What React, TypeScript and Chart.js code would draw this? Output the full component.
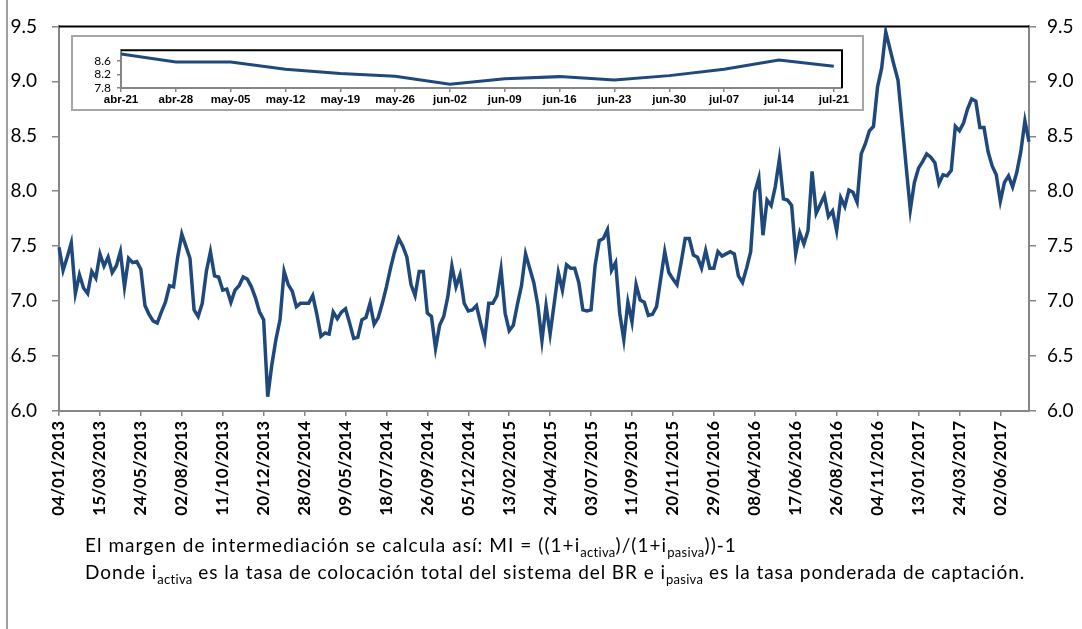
import React, { useEffect, useRef } from "react";
import { Chart, registerables } from "chart.js";
Chart.register(...registerables);

// Weekly intermediation margin (%), first week 04/01/2013
const firstWeekUTC = Date.UTC(2013, 0, 4);
const marginValues = [
  7.49, 7.28, 7.40, 7.53, 7.07, 7.24, 7.12, 7.07, 7.27, 7.21,
  7.43, 7.32, 7.40, 7.26, 7.32, 7.45, 7.13, 7.39, 7.35, 7.36,
  7.29, 6.96, 6.88, 6.82, 6.80, 6.90, 6.99, 7.14, 7.13, 7.40,
  7.61, 7.50, 7.39, 6.92, 6.86, 6.98, 7.27, 7.45, 7.23, 7.22,
  7.10, 7.11, 6.99, 7.10, 7.14, 7.22, 7.20, 7.13, 7.03, 6.90,
  6.83, 6.13, 6.42, 6.65, 6.83, 7.27, 7.15, 7.09, 6.95, 6.98,
  6.98, 6.98, 7.05, 6.88, 6.68, 6.71, 6.70, 6.90, 6.84, 6.90,
  6.93, 6.80, 6.66, 6.67, 6.83, 6.85, 6.98, 6.79, 6.85, 6.98,
  7.13, 7.30, 7.45, 7.57, 7.50, 7.40, 7.15, 7.05, 7.27, 7.27,
  6.89, 6.86, 6.57, 6.78, 6.86, 7.04, 7.32, 7.13, 7.24, 6.98,
  6.91, 6.92, 6.96, 6.80, 6.65, 6.98, 6.98, 7.05, 7.29, 6.89,
  6.73, 6.78, 6.97, 7.14, 7.43, 7.30, 7.17, 6.96, 6.64, 6.96,
  6.70, 6.98, 7.26, 7.10, 7.33, 7.30, 7.30, 7.17, 6.92, 6.91,
  6.92, 7.33, 7.55, 7.57, 7.65, 7.28, 7.35, 6.89, 6.65, 6.99,
  6.81, 7.15, 7.01, 6.99, 6.87, 6.88, 6.95, 7.20, 7.45, 7.26,
  7.20, 7.15, 7.35, 7.57, 7.57, 7.42, 7.40, 7.30, 7.46, 7.30,
  7.30, 7.45, 7.41, 7.43, 7.45, 7.43, 7.23, 7.17, 7.30, 7.45,
  7.99, 8.12, 7.60, 7.92, 7.87, 8.04, 8.29, 7.93, 7.92, 7.87,
  7.43, 7.62, 7.52, 7.64, 8.18, 7.80, 7.88, 7.96, 7.77, 7.82,
  7.64, 7.94, 7.86, 8.01, 7.99, 7.90, 8.34, 8.43, 8.55, 8.59,
  8.95, 9.12, 9.45, 9.30, 9.15, 9.01, 8.62, 8.22, 7.83, 8.08,
  8.21, 8.27, 8.34, 8.31, 8.26, 8.07, 8.15, 8.14, 8.19, 8.59,
  8.55, 8.62, 8.75, 8.84, 8.82, 8.58, 8.58, 8.36, 8.23, 8.15,
  7.91, 8.08, 8.14, 8.04, 8.17, 8.36, 8.64, 8.45,
];
const labelEvery = 10;
const mainMin = 6.0;
const mainMax = 9.5;
const mainStep = 0.5;

// Inset: last 14 weeks
const insetLabels = [
  "abr-21", "abr-28", "may-05", "may-12", "may-19", "may-26", "jun-02",
  "jun-09", "jun-16", "jun-23", "jun-30", "jul-07", "jul-14", "jul-21",
];
const insetTicks = [7.8, 8.2, 8.6];
const insetMin = 7.8;
const insetMax = 8.93;

const pad2 = (n: number) => (n < 10 ? "0" + n : "" + n);
const dateLabels = marginValues.map((_, i) => {
  const d = new Date(firstWeekUTC + i * 7 * 86400000);
  return `${pad2(d.getUTCDate())}/${pad2(d.getUTCMonth() + 1)}/${d.getUTCFullYear()}`;
});
const insetValues = marginValues.slice(-insetLabels.length);

const LINE = "#1F497D";
const AXIS = "#868686";
const FONT = "Lato";

const topRightBorder = (drawRight: boolean) => ({
  id: "frameLines",
  beforeDatasetsDraw(chart: any) {
    const { ctx, chartArea } = chart;
    ctx.save();
    ctx.strokeStyle = "#000";
    ctx.lineWidth = 2;
    ctx.beginPath();
    ctx.moveTo(chartArea.left, chartArea.top);
    ctx.lineTo(chartArea.right, chartArea.top);
    if (drawRight) ctx.lineTo(chartArea.right, chartArea.bottom);
    ctx.stroke();
    ctx.restore();
  },
});

export default function App() {
  const mainRef = useRef<HTMLCanvasElement>(null);
  const insetRef = useRef<HTMLCanvasElement>(null);

  useEffect(() => {
    const yAxisCommon = (pos: "left" | "right", width: number, padding: number) => ({
      position: pos,
      min: mainMin,
      max: mainMax,
      ticks: {
        stepSize: mainStep,
        callback: (v: any) => Number(v).toFixed(1),
        padding,
        color: "#000",
        font: { family: FONT, size: 19 },
      },
      grid: { drawOnChartArea: false, drawTicks: true, tickLength: 7, color: AXIS, lineWidth: 1.5 },
      border: { color: AXIS, width: 2 },
      afterFit: (s: any) => {
        s.width = width;
      },
    });

    const main = new Chart(mainRef.current!, {
      type: "line",
      data: {
        labels: dateLabels,
        datasets: [
          {
            data: marginValues,
            borderColor: LINE,
            borderWidth: 3.5,
            pointRadius: 0,
            tension: 0,
            yAxisID: "y",
          },
        ],
      },
      options: {
        animation: false,
        responsive: false,
        devicePixelRatio: 1,
        layout: { padding: { top: 14, left: 0, right: 0, bottom: 0 } },
        plugins: { legend: { display: false }, tooltip: { enabled: false }, title: { display: false } },
        scales: {
          x: {
            type: "category",
            offset: false,
            afterBuildTicks: (s: any) => {
              s.ticks = s.ticks.filter((t: any) => t.value % labelEvery === 0);
            },
            ticks: {
              autoSkip: false,
              minRotation: 90,
              maxRotation: 90,
              padding: 5,
              color: "#000",
              font: { family: FONT, size: 17, weight: "bold" },
            },
            grid: { drawOnChartArea: false, drawTicks: true, tickLength: 5, color: AXIS, lineWidth: 1.5 },
            border: { color: AXIS, width: 2 },
            afterFit: (s: any) => {
              s.height = 218;
            },
          },
          y: yAxisCommon("left", 59, 15) as any,
          y2: yAxisCommon("right", 53, 11) as any,
        },
      },
      plugins: [topRightBorder(false)],
    });

    const inset = new Chart(insetRef.current!, {
      type: "line",
      data: {
        datasets: [
          {
            data: insetValues.map((v, i) => ({ x: i, y: v })),
            borderColor: LINE,
            borderWidth: 3,
            pointRadius: 0,
            tension: 0,
          },
        ],
      },
      options: {
        animation: false,
        responsive: false,
        devicePixelRatio: 1,
        layout: { padding: { top: 7, right: 20, left: 0, bottom: 0 } },
        plugins: { legend: { display: false }, tooltip: { enabled: false } },
        scales: {
          x: {
            type: "linear",
            min: 0,
            max: 13.15,
            afterBuildTicks: (s: any) => {
              s.ticks = insetLabels.map((_, i) => ({ value: i }));
            },
            ticks: {
              autoSkip: false,
              maxRotation: 0,
              minRotation: 0,
              padding: 1,
              color: "#000",
              callback: (v: any) => insetLabels[Math.round(Number(v))],
              font: { family: "Liberation Sans", size: 11.5, weight: "bold" },
            },
            grid: { drawOnChartArea: false, drawTicks: true, tickLength: 4, color: AXIS, lineWidth: 1.5 },
            border: { color: AXIS, width: 2 },
            afterFit: (s: any) => {
              s.height = 21;
            },
          },
          y: {
            min: insetMin,
            max: insetMax,
            afterBuildTicks: (s: any) => {
              s.ticks = insetTicks.map((v) => ({ value: v }));
            },
            ticks: {
              padding: 6,
              color: "#000",
              callback: (v: any) => Number(v).toFixed(1),
              font: { family: FONT, size: 12 },
            },
            grid: { drawOnChartArea: false, drawTicks: true, tickLength: 4, color: AXIS, lineWidth: 1.5 },
            border: { color: AXIS, width: 2 },
            afterFit: (s: any) => {
              s.width = 48;
            },
          },
        },
      },
      plugins: [topRightBorder(true)],
    });

    return () => {
      main.destroy();
      inset.destroy();
    };
  }, []);

  const sub = { fontSize: 13, verticalAlign: "-5px", lineHeight: 0, letterSpacing: "0.3px" } as React.CSSProperties;

  return (
    <div
      style={{
        position: "absolute",
        left: 0,
        top: 0,
        width: 1082,
        height: 629,
        overflow: "hidden",
        background: "#fff",
        fontFamily: FONT,
      }}
    >
      <div style={{ position: "absolute", left: 6, top: 0, width: 2, height: 629, background: "#a0a0a0" }} />
      <canvas ref={mainRef} width={1082} height={629} style={{ position: "absolute", left: 0, top: 0 }} />
      <div
        style={{
          position: "absolute",
          left: 71,
          top: 35,
          width: 793,
          height: 76,
          border: "2px solid #a6a6a6",
          boxSizing: "border-box",
          background: "#fff",
        }}
      >
        <canvas ref={insetRef} width={789} height={72} style={{ position: "absolute", left: 0, top: 0 }} />
      </div>
      <div
        style={{
          position: "absolute",
          left: 85,
          top: 531,
          fontSize: 19,
          lineHeight: "27px",
          color: "#000",
          whiteSpace: "nowrap",
        }}
      >
        <div style={{ letterSpacing: "1.05px" }}>
          El margen de intermediación se calcula así: MI = ((1+i<span style={sub}>activa</span>)/(1+i
          <span style={sub}>pasiva</span>))-1
        </div>
        <div style={{ letterSpacing: "0.92px" }}>
          Donde i<span style={sub}>activa</span> es la tasa de colocación total del sistema del BR e i
          <span style={sub}>pasiva</span> es la tasa ponderada de captación.
        </div>
      </div>
    </div>
  );
}
